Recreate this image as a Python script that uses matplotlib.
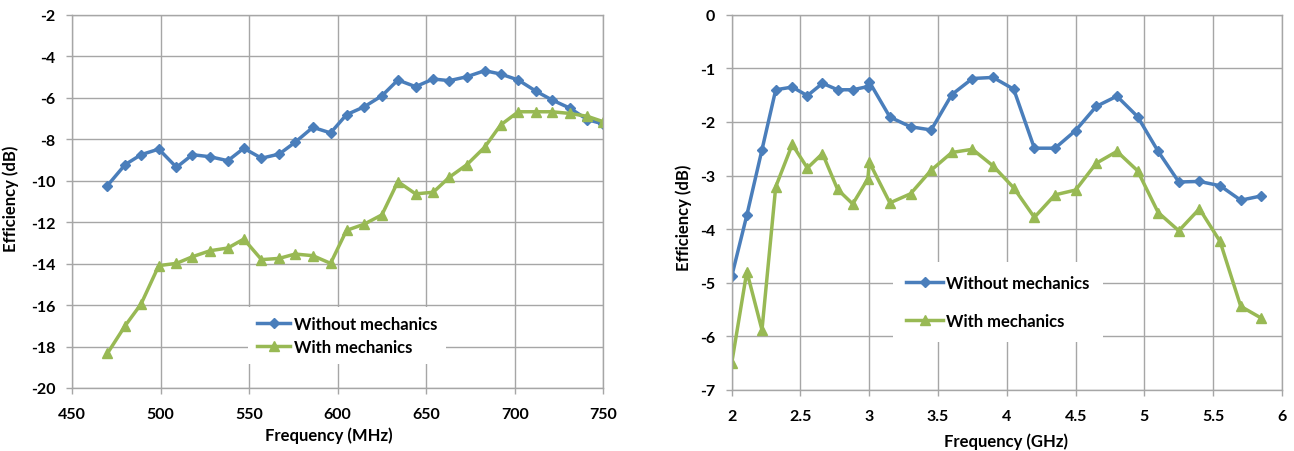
#!/usr/bin/env python3
"""Antenna efficiency with and without mechanics - low band (MHz) and high band (GHz)."""
import matplotlib
matplotlib.use('Agg')
import matplotlib.pyplot as plt

# Low band (MHz)
low_freq = [470, 480, 489, 499, 509, 518, 528, 538, 547, 557, 567, 576, 586, 596, 605,
            615, 625, 634, 644, 654, 663, 673, 683, 692, 702, 712, 721, 731, 741, 750]
low_without = [-10.24, -9.23, -8.75, -8.48, -9.36, -8.75, -8.85, -9.04, -8.44, -8.92,
               -8.72, -8.15, -7.43, -7.70, -6.82, -6.44, -5.91, -5.15, -5.47, -5.10,
               -5.18, -4.99, -4.70, -4.86, -5.15, -5.69, -6.11, -6.50, -7.06, -7.27]
low_with = [-18.33, -17.00, -15.95, -14.10, -13.99, -13.67, -13.38, -13.25, -12.82, -13.81,
            -13.75, -13.54, -13.62, -13.99, -12.40, -12.10, -11.65, -10.05, -10.64, -10.56,
            -9.84, -9.23, -8.39, -7.32, -6.68, -6.68, -6.68, -6.76, -6.90, -7.16]

# High band (GHz)
high_freq = [2.0, 2.11, 2.22, 2.32, 2.44, 2.55, 2.66, 2.77, 2.88, 2.99, 3.0, 3.15, 3.3, 3.45, 3.6,
             3.75, 3.9, 4.05, 4.2, 4.35, 4.5, 4.65, 4.8, 4.95, 5.1, 5.25, 5.4, 5.55, 5.7, 5.85]
high_without = [-4.88, -3.74, -2.52, -1.40, -1.35, -1.51, -1.28, -1.40, -1.40, -1.34,
                -1.25, -1.91, -2.09, -2.15, -1.49, -1.19, -1.17, -1.39, -2.49, -2.49,
                -2.16, -1.71, -1.52, -1.90, -2.55, -3.12, -3.11, -3.19, -3.46, -3.38]
high_with = [-6.50, -4.79, -5.88, -3.21, -2.42, -2.86, -2.59, -3.26, -3.53, -3.06,
             -2.75, -3.51, -3.34, -2.90, -2.57, -2.51, -2.82, -3.23, -3.78, -3.36,
             -3.27, -2.77, -2.55, -2.91, -3.69, -4.03, -3.62, -4.23, -5.44, -5.66]

BLUE = '#4a7ebb'
GREEN = '#98b954'
GRID = '#a6a6a6'
plt.rcParams['font.family'] = ['Lato', 'DejaVu Sans']
plt.rcParams['font.weight'] = 'bold'
plt.rcParams['axes.unicode_minus'] = False

W, H = 1294, 452
fig = plt.figure(figsize=(W / 100, H / 100), dpi=100)


def px_axes(x0, x1, y0, y1):
    return fig.add_axes([x0 / W, 1 - y1 / H, (x1 - x0) / W, (y1 - y0) / H])


def style(ax):
    ax.set_axisbelow(True)
    ax.grid(True, color=GRID, linewidth=1.0)
    for s in ax.spines.values():
        s.set_color(GRID)
        s.set_linewidth(1.0)
    ax.tick_params(axis='both', direction='out', length=4, width=1.0, color=GRID,
                   labelsize=11.5, pad=8)
    ax.tick_params(axis='x', pad=10)
    for lab in ax.get_xticklabels() + ax.get_yticklabels():
        lab.set_fontweight('bold')


def style_legend(leg):
    for t in leg.get_texts():
        t.set_fontweight('bold')


# Left chart
ax1 = px_axes(72, 603.3, 15.7, 389)
ax1.plot(low_freq, low_without, '-', color=BLUE, linewidth=2.5, marker='D',
         markersize=5.5, label='Without mechanics')
ax1.plot(low_freq, low_with, '-', color=GREEN, linewidth=2.5, marker='^',
         markersize=7, label='With mechanics')
ax1.set_xlim(450, 750)
ax1.set_ylim(-20, -2)
ax1.set_xticks(range(450, 751, 50))
ax1.set_yticks(range(-20, -1, 2))
style(ax1)
ax1.set_xlabel('Frequency (MHz)', fontsize=12, fontweight='bold')
ax1.set_ylabel('Efficiency (dB)', fontsize=12, fontweight='bold')
ax1.xaxis.set_label_coords(0.484, -0.104)
ax1.yaxis.set_label_coords(-0.0998, 0.509)
leg1 = ax1.legend(loc='center', bbox_to_anchor=(347 / W, 1 - 336.5 / H),
                  bbox_transform=fig.transFigure, frameon=True, fancybox=False,
                  framealpha=1, edgecolor='none', facecolor='white', fontsize=12,
                  handlelength=2.0, handletextpad=0.2, labelspacing=0.45,
                  borderpad=0.55, borderaxespad=0)
style_legend(leg1)

# Right chart
ax2 = px_axes(731.7, 1282, 15.7, 391)
ax2.plot(high_freq, high_without, '-', color=BLUE, linewidth=2.5, marker='D',
         markersize=5.5, label='Without mechanics')
ax2.plot(high_freq, high_with, '-', color=GREEN, linewidth=2.5, marker='^',
         markersize=7, label='With mechanics')
ax2.set_xlim(2, 6)
ax2.set_ylim(-7, 0)
ax2.set_xticks([2, 2.5, 3, 3.5, 4, 4.5, 5, 5.5, 6])
ax2.set_xticklabels(['2', '2.5', '3', '3.5', '4', '4.5', '5', '5.5', '6'])
ax2.set_yticks(range(-7, 1))
style(ax2)
ax2.set_xlabel('Frequency (GHz)', fontsize=12, fontweight='bold')
ax2.set_ylabel('Efficiency (dB)', fontsize=12, fontweight='bold')
ax2.xaxis.set_label_coords(0.4985, -0.112)
ax2.yaxis.set_label_coords(-0.072, 0.462)
leg2 = ax2.legend(loc='center', bbox_to_anchor=(998 / W, 1 - 303 / H),
                  bbox_transform=fig.transFigure, frameon=True, fancybox=False,
                  framealpha=1, edgecolor='none', facecolor='white', fontsize=12,
                  handlelength=2.2, handletextpad=0.2, labelspacing=1.3,
                  borderpad=0.8, borderaxespad=0)
style_legend(leg2)

plt.savefig('out.png', dpi=100)
